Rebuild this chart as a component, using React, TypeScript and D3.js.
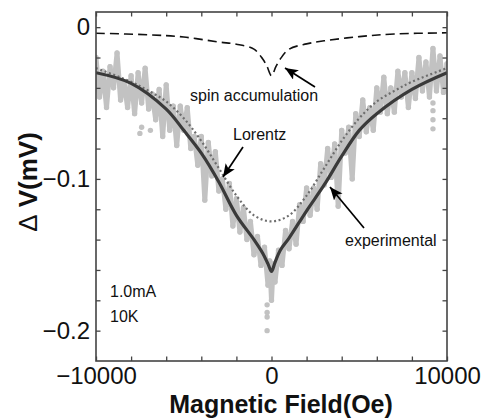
import React, { useEffect, useRef } from 'react';
import * as d3 from 'd3';

// fitted curve (solid)
const fitField = [-10000, -8000, -6000, -5000, -4000, -3000, -2000, -1000, -500, -200, 0, 200, 500, 1000, 2000, 3000, 4000, 5000, 6000, 8000, 10000];
const fitDV = [-0.030, -0.037, -0.054, -0.068, -0.083, -0.102, -0.124, -0.140, -0.149, -0.156, -0.161, -0.155, -0.147, -0.139, -0.121, -0.104, -0.085, -0.068, -0.057, -0.041, -0.030];

// Lorentz (dotted)
const lorField = [-10000, -8000, -7000, -6000, -5000, -4000, -3000, -2000, -1000, 0, 1000, 2000, 3000, 4000, 5000, 6000, 7000, 8000, 10000];
const lorDV = [-0.027, -0.036, -0.042, -0.049, -0.060, -0.075, -0.093, -0.111, -0.124, -0.128, -0.124, -0.111, -0.093, -0.075, -0.060, -0.049, -0.042, -0.036, -0.027];

// spin accumulation (dashed)
const spinField = [-10000, -7000, -5000, -3000, -2000, -1000, -500, -250, 0, 250, 500, 1000, 2000, 3000, 5000, 7000, 10000];
const spinDV = [-0.0040, -0.0050, -0.0065, -0.0098, -0.0112, -0.0145, -0.0210, -0.0260, -0.0320, -0.0260, -0.0210, -0.0145, -0.0110, -0.0090, -0.0062, -0.0045, -0.0037];

// experimental trace (grey)
const expField = [-10000, -9800, -9600, -9400, -9200, -9000, -8800, -8600, -8400, -8200, -8000, -7800, -7600, -7400, -7200, -7000, -6800, -6600, -6400, -6200, -6000, -5800, -5600, -5400, -5200, -5000, -4800, -4600, -4400, -4200, -4000, -3800, -3600, -3400, -3200, -3000, -2800, -2600, -2400, -2200, -2000, -1800, -1600, -1400, -1200, -1000, -800, -600, -400, -200, -100, 0, 100, 200, 400, 600, 800, 1000, 1200, 1400, 1600, 1800, 2000, 2200, 2400, 2600, 2800, 3000, 3200, 3400, 3600, 3800, 4000, 4200, 4400, 4600, 4800, 5000, 5200, 5400, 5600, 5800, 6000, 6200, 6400, 6600, 6800, 7000, 7200, 7400, 7600, 7800, 8000, 8200, 8400, 8600, 8800, 9000, 9200, 9400, 9600, 9800, 10000];
const expDV = [-0.020, -0.046, -0.029, -0.053, -0.026, -0.040, -0.017, -0.048, -0.036, -0.053, -0.032, -0.057, -0.030, -0.050, -0.027, -0.054, -0.044, -0.061, -0.041, -0.072, -0.038, -0.068, -0.052, -0.078, -0.052, -0.068, -0.053, -0.080, -0.072, -0.091, -0.072, -0.114, -0.076, -0.098, -0.082, -0.108, -0.100, -0.120, -0.103, -0.131, -0.113, -0.135, -0.119, -0.140, -0.128, -0.150, -0.138, -0.157, -0.145, -0.170, -0.154, -0.180, -0.156, -0.168, -0.147, -0.157, -0.134, -0.146, -0.128, -0.143, -0.117, -0.128, -0.106, -0.124, -0.106, -0.120, -0.090, -0.104, -0.080, -0.099, -0.077, -0.118, -0.068, -0.083, -0.066, -0.100, -0.057, -0.072, -0.048, -0.069, -0.053, -0.068, -0.040, -0.056, -0.033, -0.057, -0.040, -0.056, -0.029, -0.046, -0.030, -0.053, -0.030, -0.047, -0.020, -0.042, -0.023, -0.046, -0.014, -0.042, -0.019, -0.043, -0.024];

// stray points of the experimental trace
const strayField = [-7400, -7500, -6900, -250, -250, -250, -250, 9200, 9200, 9200, 9200];
const strayDV = [-0.066, -0.070, -0.068, -0.183, -0.188, -0.191, -0.200, -0.050, -0.055, -0.061, -0.067];

const xTicks = [-10000, -8000, -6000, -4000, -2000, 0, 2000, 4000, 6000, 8000, 10000];
const xLabels = [-10000, 0, 10000];
const yTicks = [0, -0.02, -0.04, -0.06, -0.08, -0.1, -0.12, -0.14, -0.16, -0.18, -0.2];
const yLabels = [0, -0.1, -0.2];

const W = 486, H = 419;

const App = () => {
  const svgRef = useRef<SVGSVGElement | null>(null);

  useEffect(() => {
    const svg = d3.select(svgRef.current);
    svg.selectAll('*').remove();

    const left = 96, right = 447, top = 12, bottom = 361;
    const x = d3.scaleLinear().domain([-10000, 10000]).range([left, right]);
    const y = d3.scaleLinear().domain([0.01, -0.22]).range([top, bottom]);
    const font = 'Liberation Sans, Arial, Helvetica, sans-serif';

    svg.append('defs').append('clipPath').attr('id', 'plotclip')
      .append('rect').attr('x', left).attr('y', top).attr('width', right - left).attr('height', bottom - top);

    svg.select('defs').append('marker')
      .attr('id', 'arrow')
      .attr('markerUnits', 'userSpaceOnUse')
      .attr('markerWidth', 14).attr('markerHeight', 12)
      .attr('refX', 13).attr('refY', 5.5)
      .attr('orient', 'auto')
      .append('path').attr('d', 'M0,0 L13,5.5 L0,11 L3,5.5 Z').attr('fill', '#000');

    const plot = svg.append('g').attr('clip-path', 'url(#plotclip)');

    const line = d3.line<[number, number]>().x(d => x(d[0])).y(d => y(d[1]));
    const smooth = d3.line<[number, number]>().x(d => x(d[0])).y(d => y(d[1])).curve(d3.curveCatmullRom);

    const zip = (a: number[], b: number[]) => a.map((v, i) => [v, b[i]] as [number, number]);

    // experimental
    const expPts = zip(expField, expDV);
    plot.append('path').attr('d', line(expPts)).attr('fill', 'none')
      .attr('stroke', '#c2c2c2').attr('stroke-width', 5).attr('stroke-linejoin', 'round');
    plot.selectAll('circle.exp').data(expPts.concat(zip(strayField, strayDV))).enter()
      .append('circle').attr('class', 'exp')
      .attr('cx', d => x(d[0])).attr('cy', d => y(d[1])).attr('r', 2.7).attr('fill', '#c2c2c2');

    // Lorentz
    plot.append('path').attr('d', smooth(zip(lorField, lorDV))).attr('fill', 'none')
      .attr('stroke', '#6e6e6e').attr('stroke-width', 2.2).attr('stroke-dasharray', '2,2.6');

    // fit
    plot.append('path').attr('d', smooth(zip(fitField, fitDV))).attr('fill', 'none')
      .attr('stroke', '#3a3a3a').attr('stroke-width', 3.2).attr('stroke-linejoin', 'round');

    // spin accumulation
    plot.append('path').attr('d', smooth(zip(spinField, spinDV))).attr('fill', 'none')
      .attr('stroke', '#111').attr('stroke-width', 1.6).attr('stroke-dasharray', '9,5');

    // frame + ticks
    const axisColor = '#444';
    const styleAxis = (g: any) => {
      g.select('.domain').remove();
      g.selectAll('line').attr('stroke', axisColor).attr('stroke-width', 1.3);
      g.selectAll('text').attr('fill', '#111').style('font-family', font).style('font-size', '24px');
    };
    const fmt = d3.format('');
    svg.append('g').attr('transform', `translate(0,${bottom})`)
      .call(d3.axisBottom(x).tickValues(xTicks).tickSize(-4.5).tickPadding(6)
        .tickFormat(d => (xLabels.includes(+d) ? fmt(+d) : '')))
      .call(styleAxis);
    svg.append('g').attr('transform', `translate(0,${top})`)
      .call(d3.axisTop(x).tickValues(xTicks).tickSize(-4.5).tickFormat(() => ''))
      .call(styleAxis);
    svg.append('g').attr('transform', `translate(${left},0)`)
      .call(d3.axisLeft(y).tickValues(yTicks).tickSize(-4.5).tickPadding(6)
        .tickFormat(d => (yLabels.includes(+d) ? fmt(+d) : '')))
      .call(styleAxis);
    svg.append('g').attr('transform', `translate(${right},0)`)
      .call(d3.axisRight(y).tickValues(yTicks).tickSize(-4.5).tickFormat(() => ''))
      .call(styleAxis);

    svg.append('rect').attr('x', left).attr('y', top).attr('width', right - left).attr('height', bottom - top)
      .attr('fill', 'none').attr('stroke', axisColor).attr('stroke-width', 1.6);

    // annotations
    const note = (t: string, tx: number, ty: number) =>
      svg.append('text').attr('x', tx).attr('y', ty).text(t)
        .style('font-family', font).style('font-size', '16px').attr('fill', '#111');
    note('spin accumulation', 190, 101);
    note('Lorentz', 233, 140);
    note('experimental', 345, 246);
    note('1.0mA', 110, 297);
    note('10K', 110, 322);

    const arrow = (x1: number, y1: number, x2: number, y2: number) =>
      svg.append('line').attr('x1', x1).attr('y1', y1).attr('x2', x2).attr('y2', y2)
        .attr('stroke', '#000').attr('stroke-width', 1.7).attr('marker-end', 'url(#arrow)');
    arrow(315, 87, 285, 68);
    arrow(243, 147, 223, 177);
    arrow(364, 228, 330, 187);

    // axis titles
    svg.append('text').attr('x', 281).attr('y', 413).attr('text-anchor', 'middle')
      .style('font-family', font).style('font-size', '25px').style('font-weight', 'bold').attr('fill', '#111')
      .text('Magnetic Field(Oe)');
    const yt = svg.append('text').attr('transform', 'translate(37,182) rotate(-90)').attr('text-anchor', 'middle')
      .style('font-family', font).style('font-size', '26px').style('font-weight', 'bold').attr('fill', '#111');
    yt.append('tspan').style('font-weight', 'normal').text('Δ');
    yt.append('tspan').text(' V(mV)');
  }, []);

  return (
    <svg ref={svgRef} width={W} height={H}
      style={{ position: 'absolute', left: 0, top: 0, background: '#fff', display: 'block' }} />
  );
};

export default App;
